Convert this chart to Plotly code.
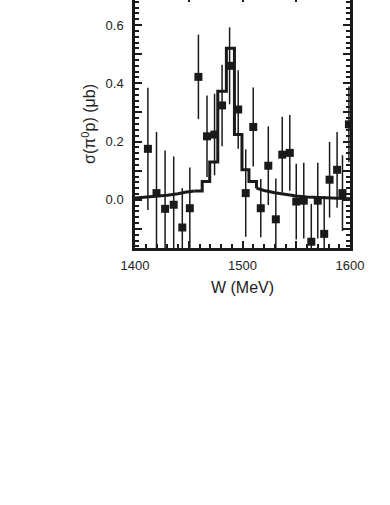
import plotly.graph_objects as go

# measured points: W (MeV), cross section (ub), error (ub)
w_points = [1412, 1420, 1428, 1436, 1444, 1451, 1459, 1467, 1474, 1481,
            1488, 1496, 1503, 1510, 1517, 1524, 1531, 1537, 1544, 1550,
            1557, 1564, 1570, 1576, 1581, 1588, 1593, 1599]
sigma = [0.175, 0.023, -0.031, -0.017, -0.095, -0.029, 0.422, 0.218, 0.224, 0.324,
         0.46, 0.31, 0.023, 0.25, -0.029, 0.117, -0.067, 0.155, 0.161, -0.006,
         -0.003, -0.144, -0.003, -0.117, 0.069, 0.103, 0.023, 0.259]
sigma_err = [0.21, 0.21, 0.2, 0.166, 0.135, 0.14, 0.145, 0.14, 0.14, 0.14,
             0.132, 0.135, 0.15, 0.136, 0.1, 0.135, 0.14, 0.13, 0.13, 0.13,
             0.13, 0.13, 0.13, 0.13, 0.13, 0.13, 0.13, 0.13]

# smooth fit tails
fit_w_left = [1400, 1410, 1420, 1430, 1440, 1448, 1455.5]
fit_left = [0.006, 0.009, 0.012, 0.016, 0.021, 0.027, 0.03]
fit_w_right = [1513, 1520, 1530, 1540, 1550, 1560, 1570, 1580, 1590, 1600]
fit_right = [0.04, 0.032, 0.024, 0.018, 0.013, 0.01, 0.008, 0.006, 0.005, 0.004]

# simulated histogram around the peak (bin edges and contents)
hist_edges = [1455.5, 1462.5, 1469.5, 1477, 1485, 1492.5, 1499.5, 1506, 1513]
hist_vals = [0.03, 0.063, 0.13, 0.373, 0.52, 0.224, 0.103, 0.063, 0.04]

x_labeled = [1400, 1500, 1600]
x_unlabeled = [1450, 1550]
y_labeled = [0.0, 0.2, 0.4, 0.6]
y_unlabeled = [-0.1, 0.1, 0.3, 0.5]

ink = "#1a1a1a"
font = dict(family="Liberation Sans, Arial, sans-serif", size=13, color="#222222")
y_range = [-0.1655, 0.686]
x_range = [1400, 1600]

fig = go.Figure()

fig.add_trace(go.Scatter(x=fit_w_left, y=fit_left, mode="lines",
                         line=dict(color=ink, width=3), showlegend=False))
fig.add_trace(go.Scatter(x=fit_w_right, y=fit_right, mode="lines",
                         line=dict(color=ink, width=3), showlegend=False))
fig.add_trace(go.Scatter(x=hist_edges, y=hist_vals, mode="lines",
                         line=dict(color=ink, width=3, shape="hv"), showlegend=False))

fig.add_trace(go.Scatter(
    x=w_points, y=sigma, mode="markers",
    marker=dict(symbol="square", size=8, color=ink),
    error_y=dict(type="data", array=sigma_err, color=ink, thickness=1.5, width=0),
    showlegend=False,
))

# invisible traces so the extra tick-only axes get drawn
for xa, ya in [("x", "y2"), ("x", "y3"), ("x2", "y"), ("x3", "y")]:
    fig.add_trace(go.Scatter(x=[1500], y=[0], xaxis=xa, yaxis=ya, mode="markers",
                             marker=dict(opacity=0), showlegend=False, hoverinfo="skip"))

tick_style = dict(ticks="inside", ticklen=7, tickwidth=2, tickcolor=ink,
                  showgrid=False, zeroline=False)
y_minor = dict(dtick=0.02, ticks="inside", ticklen=4, tickwidth=1.5, tickcolor=ink)
x_minor = dict(dtick=10, ticks="inside", ticklen=4, tickwidth=1.5, tickcolor=ink)

fig.update_layout(
    width=390, height=505,
    margin=dict(l=135, r=40, t=0, b=257),
    paper_bgcolor="white", plot_bgcolor="white",
    font=font,
    xaxis=dict(
        range=x_range, tickvals=x_labeled, minor=x_minor,
        showline=True, linecolor=ink, linewidth=2.5,
        ticklabelstandoff=4, automargin=False,
        title=dict(text="W (MeV)", standoff=10),
        **tick_style,
    ),
    xaxis2=dict(
        range=x_range, overlaying="x", side="bottom", anchor="y",
        tickvals=x_unlabeled, showticklabels=False, automargin=False,
        **tick_style,
    ),
    # the top frame sits just above the picture; only tick ends show
    xaxis3=dict(
        range=x_range, overlaying="x", side="top", anchor="y",
        tickvals=[1450, 1500, 1550], showticklabels=False, automargin=False,
        ticks="inside", ticklen=2, tickwidth=2, tickcolor=ink,
        showgrid=False, zeroline=False, showline=False,
    ),
    yaxis=dict(
        range=y_range, tickvals=y_labeled, tickformat=".1f", minor=y_minor,
        showline=True, linecolor=ink, linewidth=2.5,
        ticklabelstandoff=6, automargin=False,
        title=dict(text="σ(π<sup>0</sup>p) (μb)", standoff=6),
        **tick_style,
    ),
    yaxis2=dict(
        range=y_range, overlaying="y", side="right",
        tickvals=y_labeled + y_unlabeled, showticklabels=False, minor=y_minor,
        showline=True, linecolor=ink, linewidth=2.5, automargin=False,
        **tick_style,
    ),
    yaxis3=dict(
        range=y_range, overlaying="y", side="left",
        tickvals=y_unlabeled, showticklabels=False, automargin=False,
        **tick_style,
    ),
)

fig.write_html("out.html", config={"displayModeBar": False},
               post_script="document.body.style.margin='0';")
